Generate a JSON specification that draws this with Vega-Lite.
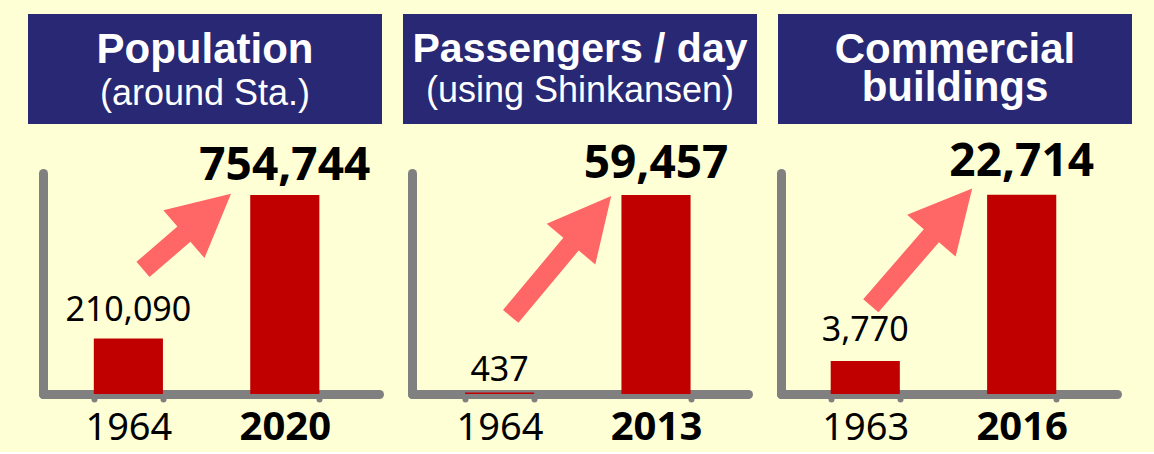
{
  "$schema": "https://vega.github.io/schema/vega-lite/v6.json",
  "background": "#FFFFD5",
  "padding": {"left": 28, "top": 14, "right": 22, "bottom": 5},
  "center": true,
  "spacing": 14,
  "config": {
    "view": {"stroke": null},
    "axis": {"grid": false},
    "axisX": {
      "title": null,
      "labelAngle": 0,
      "labelFont": "Noto Sans",
      "labelColor": "#000000",
      "labelFontSize": {"condition": {"test": "toNumber(datum.value) > 2000", "value": 40}, "value": 38},
      "labelFontWeight": {"condition": {"test": "toNumber(datum.value) > 2000", "value": "bold"}, "value": "normal"},
      "labelBaseline": "alphabetic",
      "labelPadding": 40,
      "domainColor": "#808080",
      "domainWidth": 9,
      "domainCap": "round",
      "tickBand": "extent",
      "tickColor": "#808080",
      "tickSize": 5,
      "tickWidth": 6,
      "tickCap": "round",
      "zindex": 1
    },
    "axisY": {
      "title": null,
      "labels": false,
      "ticks": false,
      "domainColor": "#808080",
      "domainWidth": 9,
      "domainCap": "round",
      "zindex": 1
    }
  },
  "vconcat": [
    {
      "bounds": "flush",
      "spacing": 21,
      "hconcat": [
        {
          "width": 354, "height": 110,
          "view": {"fill": "#292874", "stroke": null},
          "data": {"values": [{"line1": "Population", "line2": "(around Sta.)"}]},
          "layer": [
            {"mark": {"type": "text", "font": "Liberation Sans", "fontWeight": "bold", "fontSize": 42, "color": "#FFFFFF", "baseline": "alphabetic", "dy": -6}, "encoding": {"text": {"field": "line1"}}},
            {"mark": {"type": "text", "font": "Liberation Sans", "fontSize": 36, "color": "#FFFFFF", "baseline": "alphabetic", "dy": 36}, "encoding": {"text": {"field": "line2"}}}
          ]
        },
        {
          "width": 354, "height": 110,
          "view": {"fill": "#292874", "stroke": null},
          "data": {"values": [{"line1": "Passengers / day", "line2": "(using Shinkansen)"}]},
          "layer": [
            {"mark": {"type": "text", "font": "Liberation Sans", "fontWeight": "bold", "fontSize": 41, "color": "#FFFFFF", "baseline": "alphabetic", "dy": -7}, "encoding": {"text": {"field": "line1"}}},
            {"mark": {"type": "text", "font": "Liberation Sans", "fontSize": 36, "color": "#FFFFFF", "baseline": "alphabetic", "dy": 33}, "encoding": {"text": {"field": "line2"}}}
          ]
        },
        {
          "width": 354, "height": 110,
          "view": {"fill": "#292874", "stroke": null},
          "data": {"values": [{"lines": ["Commercial", "buildings"]}]},
          "layer": [
            {"mark": {"type": "text", "font": "Liberation Sans", "fontWeight": "bold", "fontSize": 42, "lineHeight": 38, "color": "#FFFFFF", "baseline": "alphabetic", "dy": -6}, "encoding": {"text": {"field": "lines"}}}
          ]
        }
      ]
    },
    {
      "bounds": "flush",
      "spacing": 33,
      "hconcat": [
        {
          "width": 336, "height": 221,
          "data": {"values": [
            {"year": "1964", "value": 210090, "period": "before"},
            {"year": "2020", "value": 754744, "period": "after"}
          ]},
          "encoding": {
            "x": {"field": "year", "type": "nominal", "sort": null, "title": null, "scale": {"paddingInner": 0.558, "paddingOuter": 0.353, "align": 0.46}},
            "y": {"field": "value", "type": "quantitative", "title": null, "scale": {"domain": [0, 838000], "nice": false}}
          },
          "layer": [
            {"mark": {"type": "bar", "color": "#C00000"}},
            {"transform": [{"filter": "datum.period == 'after'"}], "mark": {"type": "point", "shape": "M-0.538 -0.013 L-1.215 0.153 L-1.074 0.316 L-1.483 0.669 L-1.353 0.821 L-0.944 0.468 L-0.803 0.631 Z", "size": 40000, "filled": true, "color": "#FF6666", "opacity": 1, "strokeWidth": 0}},
            {"transform": [{"filter": "datum.period == 'before'"}], "mark": {"type": "text", "font": "Noto Sans", "fontSize": 34, "color": "#000000", "baseline": "alphabetic", "dy": -18}, "encoding": {"text": {"field": "value", "type": "quantitative", "format": ","}}},
            {"transform": [{"filter": "datum.period == 'after'"}], "mark": {"type": "text", "font": "Noto Sans", "fontSize": 46, "fontWeight": "bold", "color": "#000000", "baseline": "alphabetic", "dy": -15}, "encoding": {"text": {"field": "value", "type": "quantitative", "format": ","}}}
          ]
        },
        {
          "width": 336, "height": 221,
          "data": {"values": [
            {"year": "1964", "value": 437, "period": "before"},
            {"year": "2013", "value": 59457, "period": "after"}
          ]},
          "encoding": {
            "x": {"field": "year", "type": "nominal", "sort": null, "title": null, "scale": {"paddingInner": 0.558, "paddingOuter": 0.353, "align": 0.48}},
            "y": {"field": "value", "type": "quantitative", "title": null, "scale": {"domain": [0, 66000], "nice": false}}
          },
          "layer": [
            {"mark": {"type": "bar", "color": "#C00000"}},
            {"transform": [{"filter": "datum.period == 'after'"}], "mark": {"type": "point", "shape": "M-0.448 0.01 L-1.093 0.289 L-0.927 0.428 L-1.53 1.151 L-1.376 1.279 L-0.773 0.556 L-0.607 0.695 Z", "size": 40000, "filled": true, "color": "#FF6666", "opacity": 1, "strokeWidth": 0}},
            {"transform": [{"filter": "datum.period == 'before'"}], "mark": {"type": "text", "font": "Noto Sans", "fontSize": 34, "color": "#000000", "baseline": "alphabetic", "dy": -12}, "encoding": {"text": {"field": "value", "type": "quantitative", "format": ","}}},
            {"transform": [{"filter": "datum.period == 'after'"}], "mark": {"type": "text", "font": "Noto Sans", "fontSize": 46, "fontWeight": "bold", "color": "#000000", "baseline": "alphabetic", "dy": -17}, "encoding": {"text": {"field": "value", "type": "quantitative", "format": ","}}}
          ]
        },
        {
          "width": 336, "height": 221,
          "data": {"values": [
            {"year": "1963", "value": 3770, "period": "before"},
            {"year": "2016", "value": 22714, "period": "after"}
          ]},
          "encoding": {
            "x": {"field": "year", "type": "nominal", "sort": null, "title": null, "scale": {"paddingInner": 0.558, "paddingOuter": 0.353, "align": 0.45}},
            "y": {"field": "value", "type": "quantitative", "title": null, "scale": {"domain": [0, 25200], "nice": false}}
          },
          "layer": [
            {"mark": {"type": "bar", "color": "#C00000"}},
            {"transform": [{"filter": "datum.period == 'after'"}], "mark": {"type": "point", "shape": "M-0.495 -0.063 L-1.145 0.2 L-0.979 0.344 L-1.585 1.045 L-1.433 1.175 L-0.827 0.474 L-0.661 0.618 Z", "size": 40000, "filled": true, "color": "#FF6666", "opacity": 1, "strokeWidth": 0}},
            {"transform": [{"filter": "datum.period == 'before'"}], "mark": {"type": "text", "font": "Noto Sans", "fontSize": 34, "color": "#000000", "baseline": "alphabetic", "dy": -20}, "encoding": {"text": {"field": "value", "type": "quantitative", "format": ","}}},
            {"transform": [{"filter": "datum.period == 'after'"}], "mark": {"type": "text", "font": "Noto Sans", "fontSize": 46, "fontWeight": "bold", "color": "#000000", "baseline": "alphabetic", "dy": -19}, "encoding": {"text": {"field": "value", "type": "quantitative", "format": ","}}}
          ]
        }
      ]
    }
  ]
}
